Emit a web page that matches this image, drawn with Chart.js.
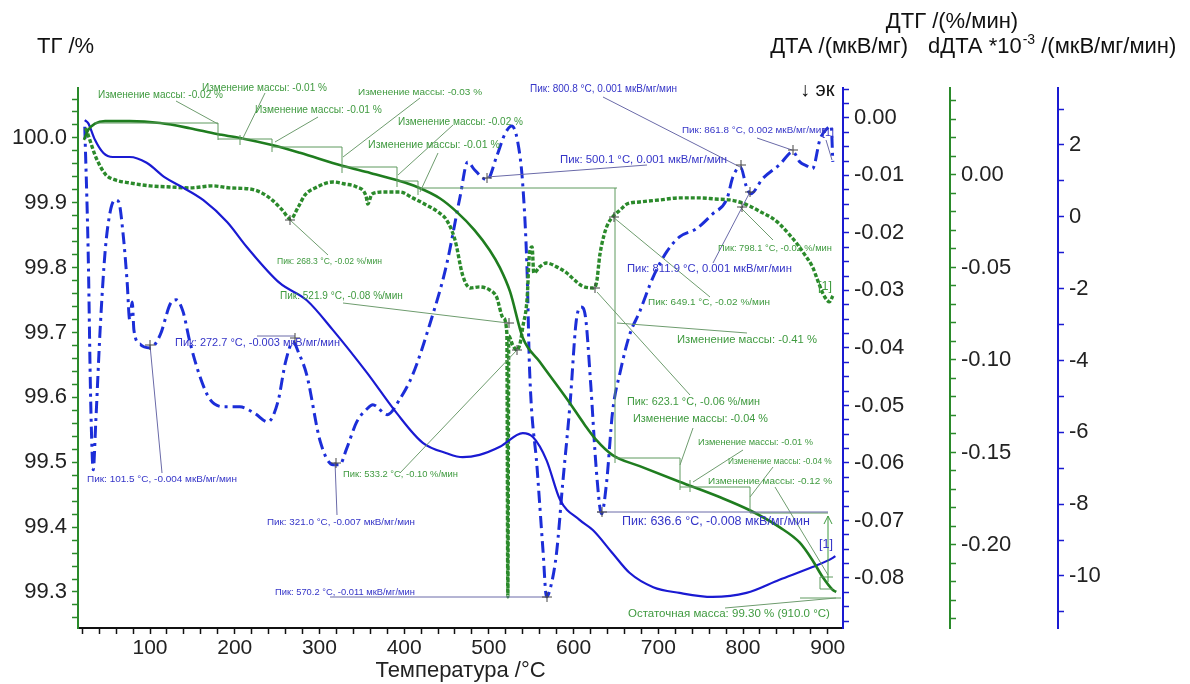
<!DOCTYPE html>
<html lang="ru">
<head>
<meta charset="UTF-8">
<title>ТГ / ДТГ / ДТА</title>
<style>
  html, body { margin: 0; padding: 0; background: #fff; }
  #wrap { width: 1190px; height: 684px; }
</style>
</head>
<body>
<div id="wrap"><canvas id="chart" width="1190" height="684"></canvas></div>

<script src="https://cdn.jsdelivr.net/npm/chart.js"></script>
<script>
// ---- data ----
// ТГ, % (left axis)
const tgTemp = [22, 27, 35, 47, 76, 112, 147, 179, 206, 244, 277, 327, 360, 391, 416, 442, 462, 483, 501, 513, 525, 540, 560, 593, 613, 627, 646, 678, 725, 773, 808, 843, 867, 882, 894, 906, 910];
const tgVal = [99.997, 100.012, 100.022, 100.026, 100.026, 100.023, 100.015, 100.006, 100.000, 99.989, 99.977, 99.957, 99.946, 99.935, 99.924, 99.907, 99.886, 99.858, 99.827, 99.800, 99.763, 99.692, 99.655, 99.596, 99.558, 99.534, 99.511, 99.494, 99.470, 99.446, 99.426, 99.400, 99.376, 99.349, 99.323, 99.303, 99.300];

// ДТА, мкВ/мг (inner right axis)
const dtaTemp = [23, 27, 35, 45, 56, 76, 96, 118, 135, 163, 191, 214, 253, 285, 316, 356, 391, 422, 450, 469, 489, 513, 540, 552, 568, 584, 607, 623, 646, 666, 694, 725, 764, 804, 843, 882, 906, 909];
const dtaVal = [-0.0004, -0.0009, -0.0038, -0.0061, -0.0068, -0.0068, -0.0078, -0.0104, -0.0118, -0.0143, -0.0181, -0.0224, -0.0287, -0.0317, -0.0369, -0.0443, -0.0513, -0.0565, -0.0583, -0.0590, -0.0586, -0.0572, -0.0548, -0.0555, -0.0595, -0.0664, -0.0699, -0.0717, -0.0757, -0.0791, -0.0816, -0.0826, -0.0833, -0.0826, -0.0803, -0.0781, -0.0765, -0.0762];

// ДТГ, %/мин (green axis)
const dtgTemp = [24, 29, 35, 41, 48, 59, 76, 100, 124, 147, 174, 194, 218, 232, 244, 256, 266, 275, 283, 295, 316, 330, 344, 355, 357, 362, 377, 395, 410, 424, 440, 450, 460, 469, 478, 489, 501, 509, 517, 521.2, 522.4, 523.5, 528, 533, 537, 540, 545, 548, 551, 553, 560, 568, 580, 592, 601, 610, 623, 627, 631, 636, 640, 646, 655, 663, 678, 702, 725, 749, 767, 784, 799, 810, 823, 834, 843, 855, 863, 873, 882, 888, 894, 899, 902, 906];
const dtgVal = [0.0254, 0.0189, 0.0108, 0.0049, 0.0000, -0.0027, -0.0043, -0.0059, -0.0065, -0.0070, -0.0059, -0.0070, -0.0076, -0.0097, -0.0135, -0.0189, -0.0238, -0.0173, -0.0108, -0.0070, -0.0038, -0.0049, -0.0065, -0.0114, -0.0157, -0.0103, -0.0092, -0.0092, -0.0124, -0.0157, -0.0200, -0.0243, -0.0351, -0.0541, -0.0611, -0.0605, -0.0622, -0.0659, -0.0773, -0.0854, -0.2281, -0.0870, -0.0919, -0.0946, -0.0908, -0.0822, -0.0676, -0.0422, -0.0389, -0.0530, -0.0497, -0.0476, -0.0497, -0.0530, -0.0568, -0.0600, -0.0611, -0.0584, -0.0432, -0.0324, -0.0270, -0.0227, -0.0189, -0.0157, -0.0146, -0.0135, -0.0124, -0.0124, -0.0130, -0.0135, -0.0151, -0.0173, -0.0205, -0.0232, -0.0265, -0.0324, -0.0368, -0.0432, -0.0497, -0.0568, -0.0638, -0.0676, -0.0686, -0.0654];

// dДТА *10^-3, мкВ/мг/мин (outer right axis)
const ddtaTemp = [23, 27, 30, 33, 36, 41, 47, 53, 59, 63, 68, 73, 76, 79, 81, 88, 100, 112, 124, 131, 139, 147, 159, 171, 189, 206, 224, 239, 251, 260, 269, 275, 285, 301, 316, 324, 332, 344, 356, 363, 380, 395, 410, 430, 450, 466, 475, 483, 498, 509, 519, 527, 534, 540, 545, 548, 557, 564, 568, 573, 580, 587, 596, 603, 609, 614, 620, 627, 633, 639, 646, 655, 666, 678, 694, 710, 725, 745, 764, 781, 788, 797, 804, 809, 823, 843, 859, 867, 875, 882, 891, 899, 904, 906];
const ddtaVal = [2.51, -0.97, -5.15, -7.04, -5.71, -3.20, -0.97, 0.14, 0.47, 0.42, -0.42, -1.81, -2.87, -2.37, -3.15, -3.54, -3.65, -3.29, -2.42, -2.31, -2.64, -3.48, -4.45, -5.09, -5.29, -5.29, -5.48, -5.71, -5.15, -4.04, -3.48, -3.76, -4.40, -6.26, -6.90, -6.90, -6.46, -5.71, -5.35, -5.23, -5.51, -5.07, -4.40, -3.01, -1.34, 0.56, 1.53, 1.31, 1.03, 1.67, 2.31, 2.53, 2.09, 0.89, -1.45, -4.23, -7.02, -9.33, -10.58, -10.30, -9.33, -7.46, -5.15, -2.92, -2.51, -2.78, -4.59, -7.10, -8.27, -7.38, -5.43, -4.32, -3.29, -2.64, -1.67, -0.97, -0.56, -0.33, 0.08, 0.50, 1.11, 1.39, 0.84, 0.64, 1.06, 1.45, 1.81, 1.53, 1.42, 1.34, 2.17, 2.45, 2.53, 1.53];

// ---- annotation layout (canvas pixels) ----
// [text, left x, middle y, width, colour key]
const notes = [
  ['Изменение массы: -0.02 %', 98, 95, 125, 'g'],
  ['Изменение массы: -0.01 %', 202, 88, 125, 'g'],
  ['Изменение массы: -0.01 %', 255, 110, 127, 'g'],
  ['Изменение массы: -0.03 %', 358, 92, 124, 'g'],
  ['Изменение массы: -0.02 %', 398, 122, 125, 'g'],
  ['Изменение массы: -0.01 %', 368, 145, 132, 'g'],
  ['Пик: 268.3 °C, -0.02 %/мин', 277, 262, 105, 'g'],
  ['Пик: 521.9 °C, -0.08 %/мин', 280, 296, 123, 'g'],
  ['Пик: 533.2 °C, -0.10 %/мин', 343, 474, 115, 'g'],
  ['Пик: 649.1 °C, -0.02 %/мин', 648, 302, 122, 'g'],
  ['Пик: 798.1 °C, -0.02 %/мин', 718, 248, 114, 'g'],
  ['Изменение массы: -0.41 %', 677, 340, 140, 'g'],
  ['Пик: 623.1 °C, -0.06 %/мин', 627, 402, 133, 'g'],
  ['Изменение массы: -0.04 %', 633, 419, 135, 'g'],
  ['Изменение массы: -0.01 %', 698, 442, 115, 'g'],
  ['Изменение массы: -0.04 %', 728, 462, 104, 'g'],
  ['Изменение массы: -0.12 %', 708, 481, 124, 'g'],
  ['Остаточная масса: 99.30 % (910.0 °C)', 628, 614, 202, 'g'],
  ['[1]', 818, 287, 14, 'g'],
  ['Пик: 101.5 °C, -0.004 мкВ/мг/мин', 87, 479, 150, 'b'],
  ['Пик: 272.7 °C, -0.003 мкВ/мг/мин', 175, 343, 165, 'b'],
  ['Пик: 321.0 °C, -0.007 мкВ/мг/мин', 267, 522, 148, 'b'],
  ['Пик: 570.2 °C, -0.011 мкВ/мг/мин', 275, 592, 140, 'b'],
  ['Пик: 500.1 °C, 0.001 мкВ/мг/мин', 560, 160, 167, 'b'],
  ['Пик: 800.8 °C, 0.001 мкВ/мг/мин', 530, 89, 147, 'b'],
  ['Пик: 861.8 °C, 0.002 мкВ/мг/мин', 682, 130, 145, 'b'],
  ['Пик: 811.9 °C, 0.001 мкВ/мг/мин', 627, 269, 165, 'b'],
  ['Пик: 636.6 °C, -0.008 мкВ/мг/мин', 622, 522, 188, 'b'],
  ['[1]', 819, 545, 14, 'b'],
  ['[1]', 822, 133, 12, 'b']
];

// mass-change step lines of the TG evaluation
const steps = [
  [95, 123, 218, 123], [218, 123, 218, 140], [240, 135, 240, 145],
  [218, 139, 272, 139], [272, 139, 272, 152],
  [272, 147, 342, 147], [342, 147, 342, 173],
  [342, 167, 397, 167], [397, 167, 397, 187],
  [397, 181, 418, 181], [418, 181, 418, 195],
  [418, 188, 617, 188], [615, 188, 615, 463],
  [615, 458, 680, 458], [680, 458, 680, 490], [690, 480, 690, 492],
  [680, 487, 750, 487], [750, 487, 750, 513], [750, 513, 828, 513],
  [820, 577, 833, 577], [820, 577, 820, 589], [820, 589, 833, 589],
  [800, 598, 841, 598]
];

// leader lines [x1, y1, x2, y2, colour key]
const leaders = [
  [176, 101, 218, 124, 'g'], [265, 93, 242, 140, 'g'], [318, 117, 275, 142, 'g'],
  [420, 98, 343, 157, 'g'], [453, 125, 398, 175, 'g'], [438, 153, 420, 192, 'g'],
  [328, 255, 290, 220, 'g'], [343, 303, 508, 323, 'g'], [400, 473, 517, 350, 'g'],
  [613, 217, 710, 297, 'g'], [740, 207, 773, 240, 'g'], [617, 323, 747, 333, 'g'],
  [597, 292, 690, 395, 'g'], [680, 465, 693, 428, 'g'], [693, 482, 743, 450, 'g'],
  [750, 497, 773, 467, 'g'], [775, 487, 828, 575, 'g'], [725, 608, 836, 598, 'g'],
  [162, 473, 150, 345, 'b'], [257, 336, 295, 336, 'b'], [337, 515, 335, 462, 'b'],
  [330, 597, 548, 597, 'b'], [487, 177, 647, 165, 'b'], [603, 97, 740, 167, 'b'],
  [757, 138, 792, 150, 'b'], [713, 263, 750, 192, 'b'], [597, 512, 828, 512, 'b'],
  [826, 140, 832, 160, 'b']
];

// small crosses at the evaluated peaks
const crosses = [
  [150, 345], [295, 338], [336, 463], [547, 597], [487, 178], [741, 165], [750, 192],
  [793, 150], [602, 512], [290, 220], [509, 323], [517, 350], [614, 217], [595, 288], [742, 207]
];

const FONT = 'Liberation Sans, Arial, sans-serif';
const COL = { g: '#3f9a3f', b: '#3535c8' };
const LINE = { g: '#6e9c6e', b: '#6a6aa8' };

function pts(t, v) { return t.map((x, i) => ({ x: x, y: v[i] })); }

function labelEvery(step, digits) {
  return function (v) {
    const k = v / step;
    if (Math.abs(k - Math.round(k)) > 1e-6) return '';
    const r = Math.round(k) * step;
    return (Math.abs(r) < 1e-9 ? 0 : r).toFixed(digits);
  };
}

function yAxis(pos, weight, colour, min, max, step, major, digits, width) {
  return {
    type: 'linear', position: pos, weight: weight, min: min, max: max,
    border: { color: colour, width: 2 },
    grid: { drawOnChartArea: false, drawTicks: true, tickLength: 6, color: colour, tickWidth: 1.5 },
    ticks: {
      stepSize: step, maxTicksLimit: 1000, autoSkip: false, includeBounds: false,
      callback: labelEvery(major, digits), color: '#222', padding: 5,
      font: { family: FONT, size: 22 }
    },
    afterFit: s => { s.width = width; }
  };
}

const annotPlugin = {
  id: 'annot',
  afterDatasetsDraw(chart) {
    const ctx = chart.ctx;
    ctx.save();
    ctx.lineWidth = 1;
    ctx.strokeStyle = '#5f9a5f';
    steps.forEach(s => {
      ctx.beginPath(); ctx.moveTo(s[0], s[1]); ctx.lineTo(s[2], s[3]); ctx.stroke();
    });
    leaders.forEach(l => {
      ctx.strokeStyle = LINE[l[4]];
      ctx.beginPath(); ctx.moveTo(l[0], l[1]); ctx.lineTo(l[2], l[3]); ctx.stroke();
    });
    // arrow of the residual mass marker
    ctx.strokeStyle = '#3f9a3f';
    ctx.beginPath(); ctx.moveTo(828, 582); ctx.lineTo(828, 516);
    ctx.moveTo(824, 524); ctx.lineTo(828, 516); ctx.lineTo(832, 524); ctx.stroke();
    ctx.strokeStyle = '#444';
    crosses.forEach(c => {
      ctx.beginPath();
      ctx.moveTo(c[0] - 5, c[1]); ctx.lineTo(c[0] + 5, c[1]);
      ctx.moveTo(c[0], c[1] - 5); ctx.lineTo(c[0], c[1] + 5);
      ctx.stroke();
    });
    ctx.textBaseline = 'middle';
    ctx.textAlign = 'left';
    notes.forEach(n => {
      ctx.font = '10px ' + FONT;
      const w = ctx.measureText(n[0]).width;
      const size = Math.min(13, 10 * n[3] / w);
      ctx.font = size.toFixed(2) + 'px ' + FONT;
      ctx.fillStyle = COL[n[4]];
      ctx.fillText(n[0], n[1], n[2]);
    });
    ctx.restore();
  },
  afterDraw(chart) {
    const ctx = chart.ctx;
    ctx.save();
    ctx.fillStyle = '#111';
    ctx.textBaseline = 'middle';
    ctx.font = '22px ' + FONT;
    ctx.textAlign = 'left';
    ctx.fillText('ТГ /%', 37, 47);
    ctx.textAlign = 'center';
    ctx.fillText('ДТГ /(%/мин)', 952, 22);
    ctx.textAlign = 'right';
    ctx.fillText('ДТА /(мкВ/мг)', 908, 47);
    ctx.textAlign = 'left';
    let x = 928;
    ctx.fillText('dДТА *10', x, 47);
    x += ctx.measureText('dДТА *10').width;
    ctx.font = '14px ' + FONT;
    ctx.fillText('-3', x + 1, 40);
    x += ctx.measureText('-3').width + 1;
    ctx.font = '22px ' + FONT;
    ctx.fillText(' /(мкВ/мг/мин)', x, 47);
    ctx.font = '20px ' + FONT;
    ctx.fillText('↓ эк', 800, 90);
    ctx.restore();
  }
};

function renderChart() {
  const ctx = document.getElementById('chart').getContext('2d');
  new Chart(ctx, {
    type: 'line',
    data: {
      datasets: [
        { label: 'ТГ', data: pts(tgTemp, tgVal), yAxisID: 'tg', borderColor: '#1f7d1f', borderWidth: 2.6,
          pointRadius: 0, cubicInterpolationMode: 'monotone' },
        { label: 'ДТА', data: pts(dtaTemp, dtaVal), yAxisID: 'dta', borderColor: '#1a1ad2', borderWidth: 2.2,
          pointRadius: 0, cubicInterpolationMode: 'monotone' },
        { label: 'ДТГ', data: pts(dtgTemp, dtgVal), yAxisID: 'dtg', borderColor: '#2b8a2b', borderWidth: 3.4,
          borderDash: [4, 2], pointRadius: 0, cubicInterpolationMode: 'monotone' },
        { label: 'dДТА', data: pts(ddtaTemp, ddtaVal), yAxisID: 'ddta', borderColor: '#1c2ed8', borderWidth: 3,
          borderDash: [12, 5, 3, 5], pointRadius: 0, cubicInterpolationMode: 'monotone' }
      ]
    },
    options: {
      responsive: false,
      animation: false,
      devicePixelRatio: 1,
      layout: { padding: { top: 88, left: 0, right: 0, bottom: 0 } },
      plugins: { legend: { display: false }, tooltip: { enabled: false } },
      scales: {
        x: {
          type: 'linear', position: 'bottom', min: 15, max: 918,
          border: { color: '#111', width: 2 },
          grid: { drawOnChartArea: false, tickLength: 6, color: '#111', tickWidth: 1.5 },
          ticks: { stepSize: 20, maxTicksLimit: 1000, autoSkip: false, includeBounds: false, maxRotation: 0,
                   callback: labelEvery(100, 0), color: '#222', padding: 2, font: { family: FONT, size: 21 } },
          title: { display: true, text: 'Температура /°C', color: '#222', font: { family: FONT, size: 22 },
                   padding: { top: 0, bottom: 0 } },
          afterFit: s => { s.height = 56; }
        },
        tg: yAxis('left', 0, '#2a8a2a', 99.2445, 100.077, 0.02, 0.1, 1, 78),
        dta: yAxis('right', 0, '#1a1ad2', -0.0887, 0.0052, 0.0025, 0.01, 2, 107),
        dtg: yAxis('right', 1, '#2a8a2a', -0.2449, 0.047, 0.01, 0.05, 2, 108),
        ddta: yAxis('right', 2, '#1a1ad2', -11.448, 3.587, 1, 2, 0, 132)
      }
    },
    plugins: [annotPlugin]
  });
}

document.addEventListener('DOMContentLoaded', renderChart);
</script>
</body>
</html>
